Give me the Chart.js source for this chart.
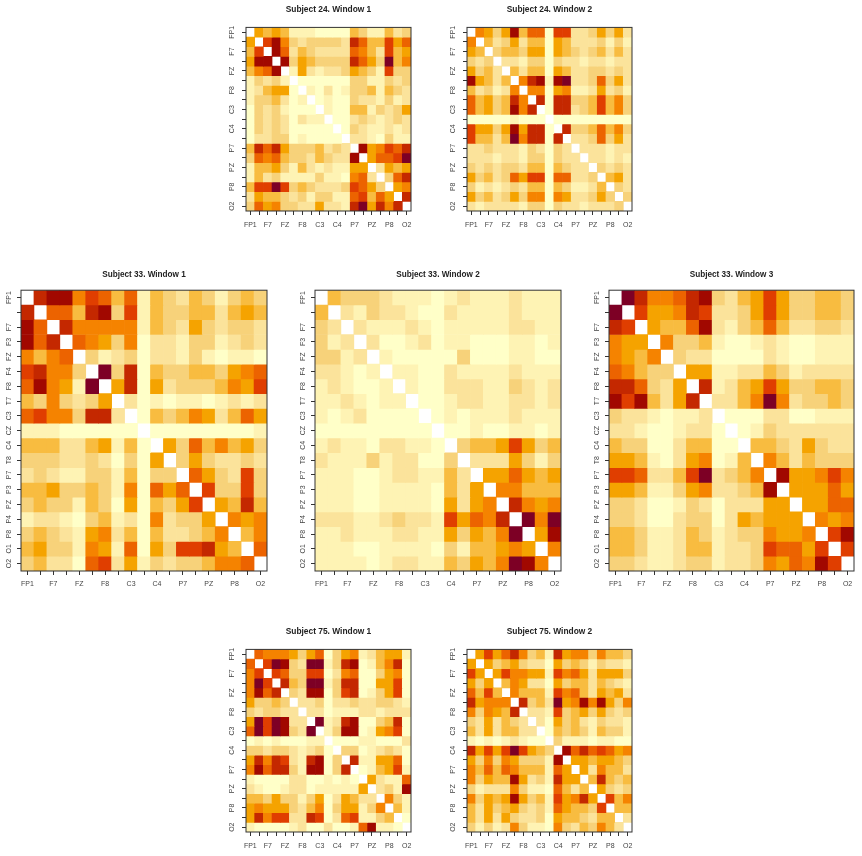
<!DOCTYPE html>
<html>
<head>
<meta charset="utf-8">
<title>EEG connectivity matrices</title>
<script src="https://cdn.jsdelivr.net/npm/chart.js@4"></script>
<style>
html, body { margin: 0; padding: 0; background: #fff; overflow: hidden; width: 862px; height: 856px; }
canvas { position: absolute; }
</style>
</head>
<body>
<script>
// electrodes, same order on both axes
const channels = ['FP1','FP2','F7','F3','FZ','F4','F8','T7','C3','CZ','C4','T8','P7','P3','PZ','P4','P8','O1','O2'];

// colour classes of the heat map, palest (0) to darkest (11)
const heatColors = ['#FFFFC8','#FEF3B4','#FBE39B','#F7D27A','#F8BC40','#F5A300','#F58300','#EC6300','#E03E00','#C42800','#A10800','#7D0025'];

// upper triangle only, each row holds the cells right of the (white) diagonal
const subject24Window1 = [
  [5,4,5,4,1,1,1,0,0,0,0,4,3,1,1,4,2,3],
  [8,10,6,3,2,3,3,3,3,2,9,7,4,4,8,5,7],
  [10,7,2,4,3,2,2,2,2,7,6,4,2,8,4,5],
  [10,3,5,4,3,3,3,3,9,7,5,3,11,4,6],
  [1,5,2,1,2,2,3,5,4,3,1,8,3,3],
  [0,0,0,0,0,0,3,3,1,1,3,2,3],
  [1,0,2,0,1,3,3,4,1,4,3,2],
  [0,1,0,0,3,2,2,1,3,1,2],
  [1,0,0,4,4,1,3,2,3,5],
  [0,0,2,3,2,1,2,3,2],
  [0,3,2,1,1,2,1,2],
  [2,2,1,0,3,1,1],
  [10,5,6,8,7,9],
  [5,7,7,8,11],
  [2,5,4,5],
  [3,7,9],
  [5,6],
  [9]
];
const subject24Window2 = [
  [6,5,3,5,10,4,7,7,0,8,8,2,2,3,5,3,5,2],
  [4,2,3,5,2,4,4,0,5,4,2,2,2,3,1,3,1],
  [3,4,4,3,5,5,0,5,4,3,2,3,4,2,4,2],
  [2,2,1,3,3,0,3,2,2,1,2,2,1,2,2],
  [4,2,4,4,0,5,4,2,2,3,3,2,3,2],
  [6,9,10,1,10,11,2,2,3,7,3,5,2],
  [6,6,0,5,6,1,1,2,5,2,3,1],
  [9,0,9,9,3,3,4,8,4,6,3],
  [0,9,9,2,3,4,8,4,6,3],
  [0,0,0,0,0,0,0,0,0],
  [9,3,3,4,7,4,6,3],
  [2,2,3,7,3,5,2],
  [2,2,2,1,2,2],
  [2,2,1,2,1],
  [3,2,3,2],
  [4,5,2],
  [3,2],
  [3]
];
const subject33Window1 = [
  [9,10,10,6,8,7,4,7,1,4,3,2,4,3,1,3,4,3],
  [7,7,4,9,10,3,8,1,4,3,3,4,4,2,4,5,4],
  [9,6,6,6,6,6,1,4,3,2,5,3,2,3,3,2],
  [7,6,5,3,6,0,2,2,1,3,3,1,2,3,2],
  [3,1,2,3,0,2,2,1,3,1,0,1,1,0],
  [11,3,9,0,4,3,3,4,4,3,5,6,7],
  [5,9,0,5,2,3,3,3,4,6,5,8],
  [2,0,1,0,1,1,0,1,2,1,2],
  [0,4,3,4,6,5,2,4,7,5],
  [0,0,0,0,0,0,0,0,1],
  [5,3,7,4,6,4,5,3],
  [3,5,3,2,2,3,2],
  [7,5,3,2,8,3],
  [8,3,3,8,3],
  [5,4,9,4],
  [6,5,6],
  [4,6],
  [7]
];
const subject33Window2 = [
  [4,3,3,3,2,1,1,1,0,1,2,1,1,1,2,1,1,1],
  [2,1,3,2,2,1,0,0,2,1,1,1,1,2,1,1,1],
  [2,1,1,1,2,1,0,1,1,1,1,1,2,2,1,1],
  [2,0,0,1,2,0,1,1,0,0,0,1,1,0,1],
  [1,0,0,0,0,0,3,0,0,0,1,1,0,0],
  [1,1,0,0,2,1,1,1,1,2,1,1,1],
  [1,0,0,2,2,2,1,1,3,2,1,2],
  [0,0,1,2,2,1,1,2,2,1,2],
  [0,1,0,1,1,1,2,1,1,1],
  [0,0,1,0,0,1,1,0,1],
  [3,4,4,5,8,5,3,4],
  [2,2,2,5,3,1,3],
  [5,5,7,5,4,5],
  [6,6,4,4,4],
  [9,6,5,6],
  [11,6,11],
  [5,10],
  [6]
];
const subject33Window3 = [
  [11,9,6,6,7,9,10,3,2,4,5,8,5,3,3,4,4,3],
  [8,5,5,6,9,8,2,2,3,5,8,5,3,3,4,4,3],
  [5,4,4,7,10,2,1,3,4,7,4,2,2,3,3,2],
  [6,3,3,4,1,0,0,1,2,1,0,0,1,1,1],
  [3,2,2,0,0,0,0,2,1,0,0,1,1,1],
  [5,5,1,1,2,2,4,3,1,2,2,2,2],
  [9,1,2,4,5,8,5,3,3,4,4,3],
  [2,2,4,6,11,6,2,3,3,4,3],
  [0,0,0,2,2,0,0,1,1,1],
  [0,1,3,2,2,2,2,2,2],
  [4,4,3,2,5,3,2,2],
  [6,4,2,4,3,3,3],
  [10,5,5,6,8,6],
  [5,5,5,7,5],
  [5,5,7,7],
  [6,5,6],
  [8,10],
  [8]
];
const subject75Window1 = [
  [7,6,6,6,5,3,5,7,0,3,5,6,1,2,4,5,5,1],
  [8,11,10,3,2,11,11,1,3,9,10,0,1,4,6,9,0],
  [8,7,3,3,8,8,0,2,6,7,0,0,3,5,6,0],
  [9,4,3,11,11,1,3,9,9,0,0,5,5,8,0],
  [3,2,10,10,0,3,8,9,0,1,3,5,8,0],
  [2,2,3,0,2,2,3,2,2,3,3,2,1],
  [2,2,0,1,1,1,2,2,1,2,2,2],
  [11,1,2,9,10,0,0,3,4,9,0],
  [1,3,10,10,0,1,5,6,8,0],
  [0,0,0,1,1,0,0,0,2],
  [3,3,0,1,2,3,2,0],
  [9,1,1,5,5,7,0],
  [0,1,4,5,8,1],
  [5,2,1,1,7],
  [2,3,1,10],
  [6,3,1],
  [4,1],
  [0]
];
const subject75Window2 = [
  [5,8,5,7,9,6,3,4,1,9,5,6,6,3,6,4,4,3],
  [5,3,4,5,3,2,2,0,5,3,4,3,1,3,2,2,1],
  [5,8,6,6,5,5,1,8,6,7,5,2,5,5,5,3],
  [4,6,5,2,2,0,5,3,4,4,2,4,3,2,1],
  [6,4,4,4,1,8,6,7,4,2,5,4,5,2],
  [9,3,4,2,11,5,6,10,6,10,5,3,6],
  [2,2,1,8,3,4,5,3,5,3,2,3],
  [2,0,5,3,4,2,1,3,2,2,1],
  [0,4,3,4,3,1,4,3,3,1],
  [3,1,1,1,0,1,1,0,0],
  [10,7,9,7,8,7,5,6],
  [5,5,4,5,5,4,3],
  [5,2,6,4,4,2],
  [4,9,4,3,4],
  [5,3,2,3],
  [8,4,6],
  [4,4],
  [2]
];

const panelTitles = [
  'Subject 24. Window 1','Subject 24. Window 2',
  'Subject 33. Window 1','Subject 33. Window 2','Subject 33. Window 3',
  'Subject 75. Window 1','Subject 75. Window 2'
];
const panelMatrices = [subject24Window1, subject24Window2, subject33Window1, subject33Window2, subject33Window3, subject75Window1, subject75Window2];

// plot box of every panel in page pixels
const panelBoxes = [
  { left: 246, right: 411, top: 27, bottom: 211, gap: 18 },
  { left: 467, right: 632, top: 27, bottom: 211, gap: 18 },
  { left: 21, right: 267, top: 290, bottom: 571, gap: 15 },
  { left: 315, right: 561, top: 290, bottom: 571, gap: 15 },
  { left: 609, right: 854, top: 290, bottom: 571, gap: 15 },
  { left: 246, right: 411, top: 649, bottom: 832, gap: 18 },
  { left: 467, right: 632, top: 649, bottom: 832, gap: 18 }
];

const leftMargin = 21, rightMargin = 8, topMargin = 27, bottomMargin = 24;
const inkColor = '#333';

// get the value of a cell from the stored triangle
function cellValue(matrix, row, col) {
  if (row === col) return null;
  const a = Math.min(row, col), b = Math.max(row, col);
  return matrix[a][b - a - 1];
}

// R style box round the image
const boxPlugin = {
  id: 'boxPlugin',
  afterDraw(chart) {
    const { ctx, chartArea: a } = chart;
    ctx.save();
    ctx.strokeStyle = inkColor;
    ctx.lineWidth = 1;
    ctx.strokeRect(a.left, a.top, a.right - a.left, a.bottom - a.top);
    ctx.restore();
  }
};

panelTitles.forEach((title, p) => {
  const matrix = panelMatrices[p];
  const box = panelBoxes[p];
  const bigPanel = box.right - box.left > 200;

  const canvas = document.createElement('canvas');
  const w = box.right - box.left + leftMargin + rightMargin;
  const h = box.bottom - box.top + topMargin + bottomMargin;
  canvas.width = w;
  canvas.height = h;
  canvas.style.width = w + 'px';
  canvas.style.height = h + 'px';
  canvas.style.left = (box.left - leftMargin) + 'px';
  canvas.style.top = (box.top - topMargin) + 'px';
  document.body.appendChild(canvas);

  // one dataset per row, one floating bar per cell
  const datasets = channels.map((name, row) => ({
    label: name,
    data: channels.map((_, col) => (row === col ? null : [row - 0.5, row + 0.5])),
    backgroundColor: channels.map((_, col) => {
      const v = cellValue(matrix, row, col);
      return v === null ? '#FFFFFF' : heatColors[v];
    }),
    borderWidth: 0,
    barPercentage: 1,
    categoryPercentage: 1
  }));

  new Chart(canvas, {
    type: 'bar',
    data: { labels: channels, datasets: datasets },
    plugins: [boxPlugin],
    options: {
      responsive: false,
      animation: false,
      devicePixelRatio: 1,
      layout: { padding: { left: 0, right: rightMargin, top: 0, bottom: 0 } },
      plugins: {
        legend: { display: false },
        tooltip: { enabled: false },
        title: {
          display: true,
          text: title,
          fullSize: false,
          color: '#222',
          font: { family: '"Liberation Sans", Arial, sans-serif', size: bigPanel ? 8.2 : 8.4, weight: 'bold', lineHeight: 1 },
          padding: { top: topMargin - box.gap - 4, bottom: box.gap - 4 }
        }
      },
      scales: {
        x: {
          type: 'category',
          offset: true,
          grid: { display: true, offset: false, drawOnChartArea: false, drawTicks: true, tickLength: 4, color: inkColor },
          border: { display: false },
          afterFit: s => { s.height = bottomMargin; },
          ticks: {
            autoSkip: false,
            maxRotation: 0,
            minRotation: 0,
            padding: bigPanel ? 5 : 5.5,
            color: '#444',
            font: { family: '"Liberation Sans", Arial, sans-serif', size: 7 },
            callback: (v, i) => (i % 2 === 0 ? channels[i] : '')
          }
        },
        y: {
          type: 'linear',
          min: -0.5,
          max: 18.5,
          reverse: true,
          afterBuildTicks: s => { s.ticks = channels.map((_, i) => ({ value: i })); },
          grid: { display: true, drawOnChartArea: false, drawTicks: true, tickLength: 4, color: inkColor },
          border: { display: false },
          afterFit: s => { s.width = leftMargin; },
          ticks: {
            autoSkip: false,
            minRotation: 90,
            maxRotation: 90,
            crossAlign: 'center',
            padding: bigPanel ? 2 : 4,
            color: '#444',
            font: { family: '"Liberation Sans", Arial, sans-serif', size: 7 },
            callback: v => {
              if (bigPanel) return v === 1 ? '' : channels[v];
              return v % 2 === 0 ? channels[v] : '';
            }
          }
        }
      },
      datasets: { bar: { grouped: false } }
    }
  });
});
</script>
</body>
</html>
